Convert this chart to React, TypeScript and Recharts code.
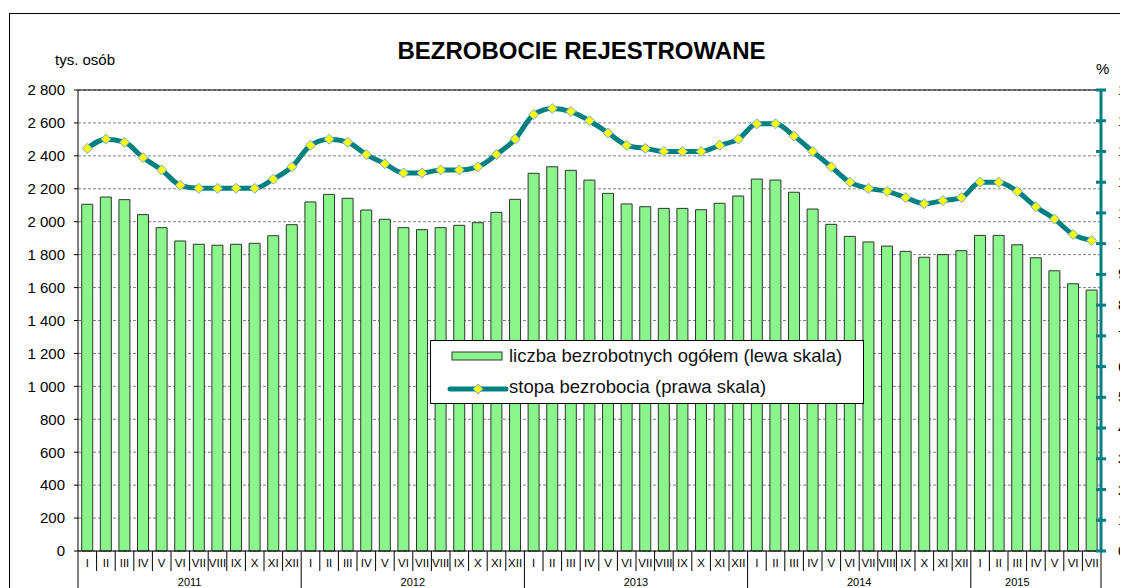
import React from 'react'
import {
  ComposedChart, Bar, Line, XAxis, YAxis, CartesianGrid, Legend, ReferenceLine,
} from 'recharts'

const MONTHS = ['I', 'II', 'III', 'IV', 'V', 'VI', 'VII', 'VIII', 'IX', 'X', 'XI', 'XII']
const YEARS = ['2011', '2012', '2013', '2014', '2015']

// liczba bezrobotnych, tys. osób
const UNEMPLOYED_2011 = [2106, 2150, 2134, 2043, 1964, 1883, 1863, 1857, 1863, 1869, 1915, 1982]
const UNEMPLOYED_2012 = [2120, 2166, 2142, 2071, 2015, 1964, 1952, 1964, 1978, 1994, 2057, 2136]
const UNEMPLOYED_2013 = [2294, 2334, 2312, 2253, 2172, 2108, 2091, 2081, 2081, 2073, 2112, 2156]
const UNEMPLOYED_2014 = [2259, 2253, 2179, 2077, 1984, 1911, 1877, 1852, 1820, 1784, 1800, 1824]
const UNEMPLOYED_2015 = [1917, 1917, 1860, 1781, 1702, 1623, 1585]

// stopa bezrobocia, %
const RATE_2011 = [13.1, 13.4, 13.3, 12.8, 12.4, 11.9, 11.8, 11.8, 11.8, 11.8, 12.1, 12.5]
const RATE_2012 = [13.2, 13.4, 13.3, 12.9, 12.6, 12.3, 12.3, 12.4, 12.4, 12.5, 12.9, 13.4]
const RATE_2013 = [14.2, 14.4, 14.3, 14.0, 13.6, 13.2, 13.1, 13.0, 13.0, 13.0, 13.2, 13.4]
const RATE_2014 = [13.9, 13.9, 13.5, 13.0, 12.5, 12.0, 11.8, 11.7, 11.5, 11.3, 11.4, 11.5]
const RATE_2015 = [12.0, 12.0, 11.7, 11.2, 10.8, 10.3, 10.1]

const LEFT_TICKS = [0, 200, 400, 600, 800, 1000, 1200, 1400, 1600, 1800, 2000, 2200, 2400, 2600, 2800]
const RIGHT_TICKS = [0, 1, 2, 3, 4, 5, 6, 7, 8, 9, 10, 11, 12, 13, 14, 15]

const UNEMPLOYED = [UNEMPLOYED_2011, UNEMPLOYED_2012, UNEMPLOYED_2013, UNEMPLOYED_2014, UNEMPLOYED_2015]
const RATE = [RATE_2011, RATE_2012, RATE_2013, RATE_2014, RATE_2015]

const data = YEARS.flatMap((year, yi) =>
  UNEMPLOYED[yi].map((v, mi) => ({
    key: `${year}-${mi}`,
    month: MONTHS[mi],
    year,
    first: mi === 0,
    count: UNEMPLOYED[yi].length,
    unemployed: v,
    rate: RATE[yi][mi],
  })),
)

const FONT = 'Arial, "Liberation Sans", sans-serif'
const TEAL = '#008080'
const CHART_W = 1160
const CHART_H = 600
const MARGIN = { top: 82, right: 27, bottom: 12, left: 0 }
const LEFT_W = 70
const RIGHT_W = 40
const X_H = 45
const BAND = (CHART_W - MARGIN.left - MARGIN.right - LEFT_W - RIGHT_W) / data.length
const RIGHT_AXIS_X = CHART_W - MARGIN.right - RIGHT_W

const fmtThousands = (n: number) =>
  n >= 1000 ? `${Math.floor(n / 1000)} ${String(n % 1000).padStart(3, '0')}` : String(n)

function MonthTick({ x, y, index }: any) {
  const d = data[index]
  if (!d) return null
  const left = x - BAND / 2
  const last = index === data.length - 1
  // 2015 is an incomplete year, its label sits a bit left of the range centre
  const labelX = d.count === 12 ? left + (d.count * BAND) / 2 : left + (d.count * BAND) / 2 - BAND
  return (
    <g>
      <line x1={left} y1={y} x2={left} y2={y + (d.first ? 45 : 20)} stroke="#000" strokeWidth={1} />
      {last && <line x1={x + BAND / 2} y1={y} x2={x + BAND / 2} y2={y + 45} stroke="#000" strokeWidth={1} />}
      <text x={x} y={y + 16} textAnchor="middle" fontSize={11.5} fontFamily={FONT} fill="#000">{d.month}</text>
      {d.first && (
        <text x={labelX} y={y + 35} textAnchor="middle" fontSize={11} fontFamily={FONT} fill="#000">
          {d.year}
        </text>
      )}
    </g>
  )
}

function RateTick({ y, payload }: any) {
  return (
    <g>
      <line x1={RIGHT_AXIS_X - 5} y1={y} x2={RIGHT_AXIS_X + 5} y2={y} stroke={TEAL} strokeWidth={3} />
      <text x={RIGHT_AXIS_X + 17} y={y + 5} textAnchor="start" fontSize={15} fontFamily={FONT} fill="#000">
        {payload.value}
      </text>
    </g>
  )
}

function Diamond({ cx, cy, index }: any) {
  if (cx == null || cy == null) return null
  const r = 5
  return (
    <polygon
      key={index}
      points={`${cx},${cy - r} ${cx + r},${cy} ${cx},${cy + r} ${cx - r},${cy}`}
      fill="#FFFF00"
      stroke="#6FA8DC"
      strokeWidth={1}
    />
  )
}

function LegendBox() {
  return (
    <div style={{
      width: 434, height: 64, boxSizing: 'border-box', border: '1px solid #000', background: '#fff',
      fontFamily: FONT, fontSize: 18.5, color: '#111', position: 'relative',
    }}>
      <svg width={80} height={64} style={{ position: 'absolute', left: 0, top: 0 }}>
        <rect x={21} y={11} width={50} height={8} fill="#8AF58A" stroke="#333" strokeWidth={1} />
        <line x1={19} y1={48} x2={75} y2={48} stroke={TEAL} strokeWidth={5} strokeLinecap="round" />
        <polygon points="47,43 52,48 47,53 42,48" fill="#FFFF00" stroke="#6FA8DC" strokeWidth={1} />
      </svg>
      <div style={{ position: 'absolute', left: 78, top: 4, whiteSpace: 'nowrap' }}>liczba bezrobotnych ogółem (lewa skala)</div>
      <div style={{ position: 'absolute', left: 78, top: 35, whiteSpace: 'nowrap' }}>stopa bezrobocia (prawa skala)</div>
    </div>
  )
}

export default function App() {
  return (
    <div style={{ position: 'relative', width: 1120, height: 580, overflow: 'hidden', background: '#fff' }}>
      <div style={{ position: 'absolute', left: 1, top: 5, width: 1300, height: 700, border: '1px solid #000' }} />
      <div style={{
        position: 'absolute', left: 0, width: 1147, top: 29, textAlign: 'center',
        fontFamily: FONT, fontWeight: 'bold', fontSize: 24, color: '#000',
      }}>
        BEZROBOCIE REJESTROWANE
      </div>
      <div style={{ position: 'absolute', left: 47, top: 43, fontFamily: FONT, fontSize: 15, color: '#000' }}>tys. osób</div>
      <div style={{ position: 'absolute', left: 1088, top: 52, fontFamily: FONT, fontSize: 15, color: '#000' }}>%</div>
      <div style={{ position: 'absolute', left: 0, top: 0 }}>
        <ComposedChart width={CHART_W} height={CHART_H} data={data} margin={MARGIN} barCategoryGap="20%">
          <CartesianGrid yAxisId="left" vertical={false} stroke="#808080" strokeDasharray="3 2" />
          <XAxis
            dataKey="key"
            interval={0}
            height={X_H}
            tick={<MonthTick />}
            tickLine={false}
            tickSize={0}
            tickMargin={0}
            axisLine={{ stroke: '#000' }}
          />
          <YAxis
            yAxisId="left"
            width={LEFT_W}
            domain={[0, 2800]}
            ticks={LEFT_TICKS}
            tickFormatter={fmtThousands}
            tick={{ fontSize: 15, fontFamily: FONT, fill: '#000' }}
            tickSize={4}
            tickMargin={9}
            tickLine={{ stroke: '#000' }}
            axisLine={{ stroke: '#000' }}
          />
          <YAxis
            yAxisId="right"
            orientation="right"
            width={RIGHT_W}
            domain={[0, 15]}
            ticks={RIGHT_TICKS}
            tick={<RateTick />}
            tickLine={false}
            axisLine={{ stroke: TEAL, strokeWidth: 3 }}
          />
          <ReferenceLine yAxisId="left" y={2800} stroke="#000" strokeWidth={1} />
          <Bar
            yAxisId="left"
            dataKey="unemployed"
            fill="#8AF58A"
            stroke="#333"
            strokeWidth={1}
            isAnimationActive={false}
          />
          <Line
            yAxisId="right"
            type="monotone"
            dataKey="rate"
            stroke={TEAL}
            strokeWidth={5}
            dot={<Diamond />}
            activeDot={false}
            isAnimationActive={false}
          />
          <Legend
            layout="vertical"
            align="center"
            verticalAlign="middle"
            content={() => <LegendBox />}
            wrapperStyle={{ left: 422, top: 332, width: 434, height: 64 }}
          />
        </ComposedChart>
      </div>
    </div>
  )
}
